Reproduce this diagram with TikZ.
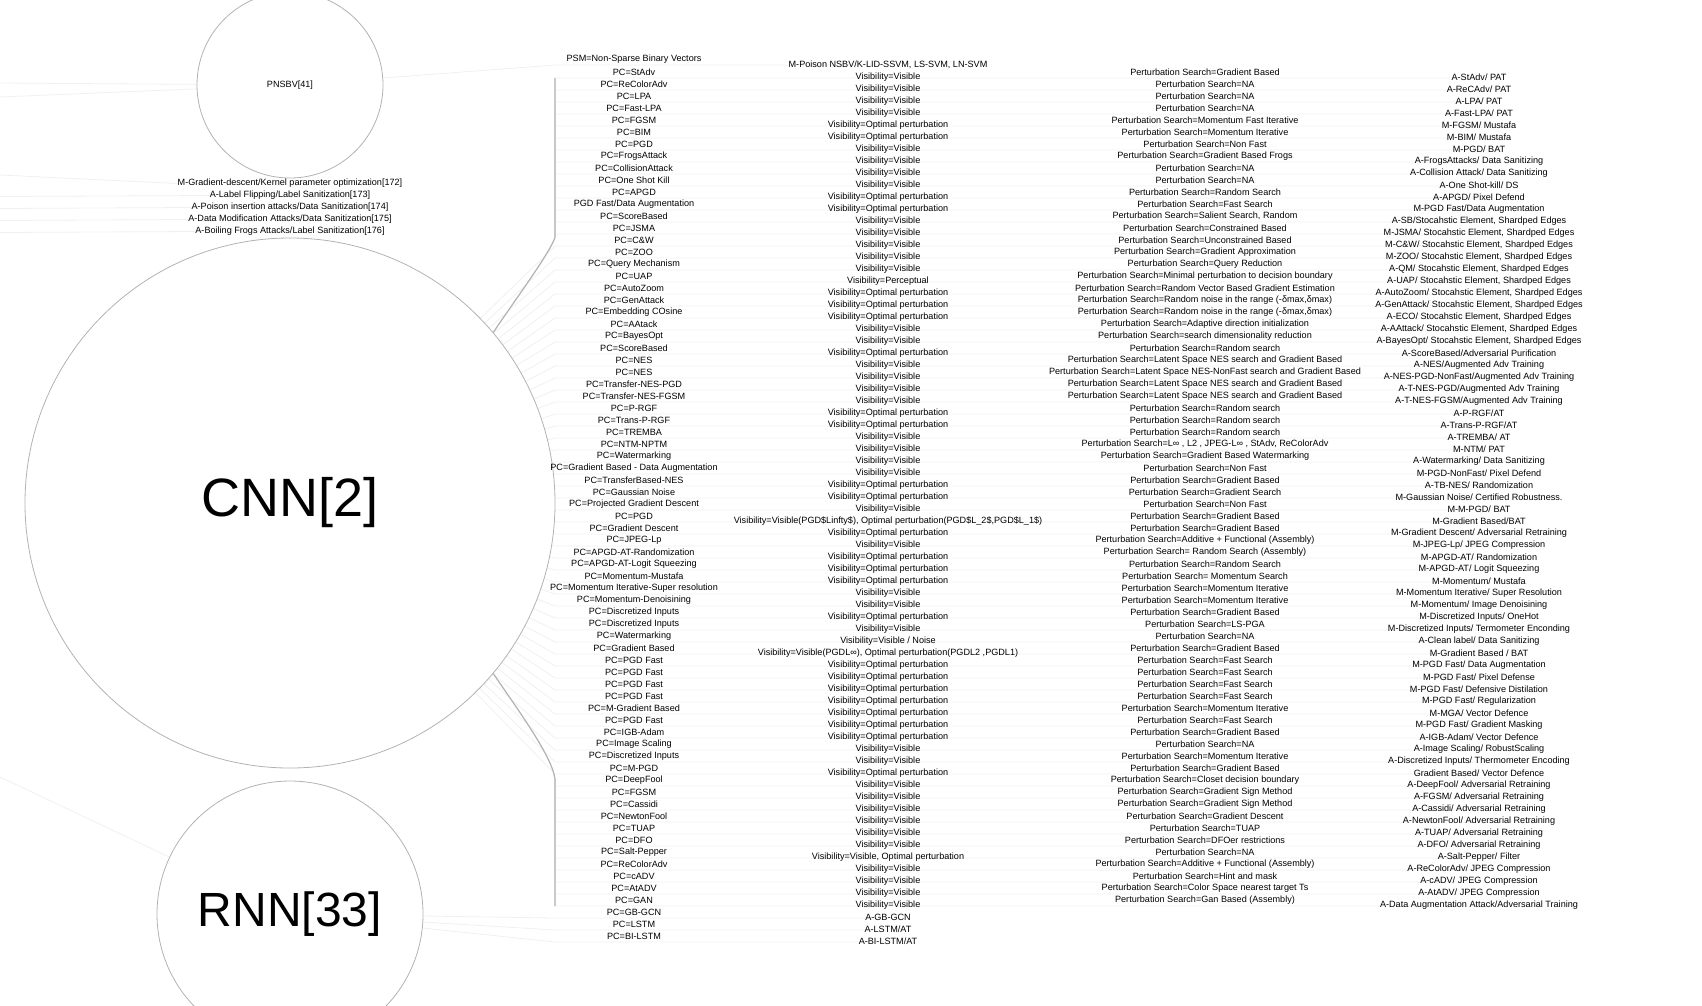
\documentclass[tikz,border=0pt]{standalone}
\usepackage{fontspec}
\setmainfont{Liberation Sans}
\usetikzlibrary{backgrounds}
\newcommand\visV{Visibility=Visible}
\newcommand\visO{Visibility=Optimal perturbation}
\tikzset{
  lbl/.style={font=\fontsize{9.1}{10}\selectfont, inner sep=0pt},
  hub/.style={circle, draw=gray!60, line width=0.8pt, inner sep=0pt},
  link/.style={draw=gray!12, line width=0.8pt},
  trunk/.style={draw=gray!60, line width=1.1pt},
}
\begin{document}
\begin{tikzpicture}[x=1pt,y=-1pt]
\useasboundingbox (0,0) rectangle (1702,1005);
\clip (0,0) rectangle (1702,1005);

% model circles
\node[hub, minimum size=186, font=\fontsize{9.1}{10}\selectfont] (pnsbv) at (290,85) {PNSBV[41]};
\node[hub, minimum size=530, font=\fontsize{54}{60}\selectfont] (cnn) at (290,503) {CNN[2]};
\node[hub, minimum size=266, font=\fontsize{48}{54}\selectfont] (rnn) at (290,914) {RNN[33]};

% poisoning defences under PNSBV
\foreach \t [count=\i] in {M-Gradient-descent/Kernel parameter optimization[172],%
  A-Label Flipping/Label Sanitization[173],%
  A-Poison insertion attacks/Data Sanitization[174],%
  A-Data Modification Attacks/Data Sanitization[175],%
  A-Boiling Frogs Attacks/Label Sanitization[176]}
  \node[lbl] (md\i) at (290,{12*\i+171.5}) {\t};

% perturbation columns
\node[lbl] (pc1) at (634,59) {PSM=Non-Sparse Binary Vectors};
\foreach \t [count=\i from 2] in {PC=StAdv,PC=ReColorAdv,PC=LPA,PC=Fast-LPA,PC=FGSM,PC=BIM,PC=PGD,%
  PC=FrogsAttack,PC=CollisionAttack,PC=One Shot Kill,PC=APGD,PGD Fast/Data Augmentation,%
  PC=ScoreBased,PC=JSMA,PC=C\&W,PC=ZOO,PC=Query Mechanism,PC=UAP,PC=AutoZoom,PC=GenAttack,%
  PC=Embedding COsine,PC=AAtack,PC=BayesOpt,PC=ScoreBased,PC=NES,PC=NES,PC=Transfer-NES-PGD,%
  PC=Transfer-NES-FGSM,PC=P-RGF,PC=Trans-P-RGF,PC=TREMBA,PC=NTM-NPTM,PC=Watermarking,%
  PC=Gradient Based - Data Augmentation,PC=TransferBased-NES,PC=Gaussian Noise,%
  PC=Projected Gradient Descent,PC=PGD,PC=Gradient Descent,PC=JPEG-Lp,PC=APGD-AT-Randomization,%
  PC=APGD-AT-Logit Squeezing,PC=Momentum-Mustafa,PC=Momentum Iterative-Super resolution,%
  PC=Momentum-Denoisining,PC=Discretized Inputs,PC=Discretized Inputs,PC=Watermarking,%
  PC=Gradient Based,PC=PGD Fast,PC=PGD Fast,PC=PGD Fast,PC=PGD Fast,PC=M-Gradient Based,%
  PC=PGD Fast,PC=IGB-Adam,PC=Image Scaling,PC=Discretized Inputs,PC=M-PGD,PC=DeepFool,%
  PC=FGSM,PC=Cassidi,PC=NewtonFool,PC=TUAP,PC=DFO,PC=Salt-Pepper,PC=ReColorAdv,PC=cADV,%
  PC=AtADV,PC=GAN,PC=GB-GCN,PC=LSTM,PC=BI-LSTM}
  \node[lbl] (pc\i) at (634,{12*\i+48}) {\t};

\node[lbl] (v1) at (888,64.7) {M-Poison NSBV/K-LID-SSVM, LS-SVM, LN-SVM};
\foreach \t [count=\i from 2] in {\visV,\visV,\visV,\visV,\visO,\visO,\visV,\visV,\visV,\visV,%
  \visO,\visO,\visV,\visV,\visV,\visV,\visV,Visibility=Perceptual,\visO,\visO,\visO,\visV,\visV,%
  \visO,\visV,\visV,\visV,\visV,\visO,\visO,\visV,\visV,\visV,\visV,\visO,\visO,\visV,%
  {Visibility=Visible(PGD\$Linfty\$), Optimal perturbation(PGD\$L\_2\$,PGD\$L\_1\$)},%
  \visO,\visV,\visO,\visO,\visO,\visV,\visV,\visO,\visV,Visibility=Visible / Noise,%
  {Visibility=Visible(PGDL∞), Optimal perturbation(PGDL2 ,PGDL1)},%
  \visO,\visO,\visO,\visO,\visO,\visO,\visO,\visV,\visV,\visO,%
  \visV,\visV,\visV,\visV,\visV,\visV,{Visibility=Visible, Optimal perturbation},%
  \visV,\visV,\visV,\visV,A-GB-GCN,A-LSTM/AT,A-BI-LSTM/AT}
  \node[lbl] (v\i) at (888,{12*\i+53}) {\t};

\foreach \t [count=\i from 2] in {Gradient Based,NA,NA,NA,Momentum Fast Iterative,%
  Momentum Iterative,Non Fast,Gradient Based Frogs,NA,NA,Random Search,Fast Search,%
  {Salient Search, Random},Constrained Based,Unconstrained Based,Gradient Approximation,%
  Query Reduction,Minimal perturbation to decision boundary,%
  Random Vector Based Gradient Estimation,{Random noise in the range (-δmax,δmax)},%
  {Random noise in the range (-δmax,δmax)},Adaptive direction initialization,%
  search dimensionality reduction,Random search,%
  Latent Space NES search and Gradient Based,%
  Latent Space NES-NonFast search and Gradient Based,%
  Latent Space NES search and Gradient Based,Latent Space NES search and Gradient Based,%
  Random search,Random search,Random search,{L∞ , L2 , JPEG-L∞ , StAdv, ReColorAdv},%
  Gradient Based Watermarking,Non Fast,Gradient Based,Gradient Search,Non Fast,%
  Gradient Based,Gradient Based,Additive + Functional (Assembly),%
  {\ Random Search (Assembly)},Random Search,{\ Momentum Search},Momentum Iterative,%
  Momentum Iterative,Gradient Based,LS-PGA,NA,Gradient Based,Fast Search,Fast Search,%
  Fast Search,Fast Search,Momentum Iterative,Fast Search,Gradient Based,NA,%
  Momentum Iterative,Gradient Based,Closet decision boundary,Gradient Sign Method,%
  Gradient Sign Method,Gradient Descent,TUAP,DFOer restrictions,NA,%
  Additive + Functional (Assembly),Hint and mask,Color Space nearest target Ts,%
  Gan Based (Assembly)}
  \node[lbl] (ps\i) at (1205,{12*\i+48}) {Perturbation Search=\t};

% attack / defence column
\foreach \t [count=\i from 2] in {A-StAdv/ PAT,A-ReCAdv/ PAT,A-LPA/ PAT,A-Fast-LPA/ PAT,%
  M-FGSM/ Mustafa,M-BIM/ Mustafa,M-PGD/ BAT,A-FrogsAttacks/ Data Sanitizing,%
  A-Collision Attack/ Data Sanitizing,A-One Shot-kill/ DS,A-APGD/ Pixel Defend,%
  M-PGD Fast/Data Augmentation,{A-SB/Stocahstic Element, Shardped Edges},%
  {M-JSMA/ Stocahstic Element, Shardped Edges},{M-C\&W/ Stocahstic Element, Shardped Edges},%
  {M-ZOO/ Stocahstic Element, Shardped Edges},{A-QM/ Stocahstic Element, Shardped Edges},%
  {A-UAP/ Stocahstic Element, Shardped Edges},{A-AutoZoom/ Stocahstic Element, Shardped Edges},%
  {A-GenAttack/ Stocahstic Element, Shardped Edges},{A-ECO/ Stocahstic Element, Shardped Edges},%
  {A-AAttack/ Stocahstic Element, Shardped Edges},{A-BayesOpt/ Stocahstic Element, Shardped Edges},%
  A-ScoreBased/Adversarial Purification,A-NES/Augmented Adv Training,%
  A-NES-PGD-NonFast/Augmented Adv Training,A-T-NES-PGD/Augmented Adv Training,%
  A-T-NES-FGSM/Augmented Adv Training,A-P-RGF/AT,A-Trans-P-RGF/AT,A-TREMBA/ AT,M-NTM/ PAT,%
  A-Watermarking/ Data Sanitizing,M-PGD-NonFast/ Pixel Defend,A-TB-NES/ Randomization,%
  M-Gaussian Noise/ Certified Robustness.,M-M-PGD/ BAT,M-Gradient Based/BAT,%
  M-Gradient Descent/ Adversarial Retraining,M-JPEG-Lp/ JPEG Compression,%
  M-APGD-AT/ Randomization,M-APGD-AT/ Logit Squeezing,M-Momentum/ Mustafa,%
  M-Momentum Iterative/ Super Resolution,M-Momentum/ Image Denoisining,%
  M-Discretized Inputs/ OneHot,M-Discretized Inputs/ Termometer Enconding,%
  A-Clean label/ Data Sanitizing,M-Gradient Based / BAT,M-PGD Fast/ Data Augmentation,%
  M-PGD Fast/ Pixel Defense,M-PGD Fast/ Defensive Distilation,M-PGD Fast/ Regularization,%
  M-MGA/ Vector Defence,M-PGD Fast/ Gradient Masking,A-IGB-Adam/ Vector Defence,%
  A-Image Scaling/ RobustScaling,A-Discretized Inputs/ Thermometer Encoding,%
  Gradient Based/ Vector Defence,A-DeepFool/ Adversarial Retraining,%
  A-FGSM/ Adversarial Retraining,A-Cassidi/ Adversarial Retraining,%
  A-NewtonFool/ Adversarial Retraining,A-TUAP/ Adversarial Retraining,%
  A-DFO/ Adversarial Retraining,A-Salt-Pepper/ Filter,A-ReColorAdv/ JPEG Compression,%
  A-cADV/ JPEG Compression,A-AtADV/ JPEG Compression,%
  A-Data Augmentation Attack/Adversarial Training}
  \node[lbl] (ad\i) at (1479,{12*\i+53}) {\t};

% junctions and free ends
\coordinate (j1) at (555,65);
\foreach \i in {2,...,74} \coordinate (j\i) at (555,{12*\i+54});
\coordinate (lp1) at (0,83);
\coordinate (lp2) at (0,97);
\coordinate (lr) at (0,777);
\coordinate (lg1) at (0,175);
\foreach \i in {2,...,5} \coordinate (lg\i) at (0,{12*\i+172.5});

\begin{scope}[on background layer]
  \draw[link] (lp1) -- (pnsbv);
  \draw[link] (lp2) -- (pnsbv);
  \draw[link] (lr) -- (rnn);
  \foreach \i in {1,...,5} \draw[link] (lg\i) -- (md\i.west);
  \draw[link] (pnsbv) -- (j1) -- (v1 |- j1);
  \foreach \i in {2,...,15}
    \draw[link] (cnn.40) .. controls (515,300) and (552,250) .. (555,237) -- (j\i) -- (ad\i |- j\i);
  \foreach \i in {16,...,60}
    \draw[link] (cnn) -- (j\i) -- (ad\i |- j\i);
  \foreach \i in {61,...,71}
    \draw[link] (cnn.-40) .. controls (518,710) and (552,756) .. (555,779) -- (j\i) -- (ad\i |- j\i);
  \foreach \i in {72,73,74}
    \draw[link] (rnn) -- (j\i) -- (v\i |- j\i);
  \draw[trunk] (cnn.40) .. controls (515,300) and (552,250) .. (555,237) -- (j2);
  \draw[trunk] (cnn.-40) .. controls (518,710) and (552,756) .. (555,779) -- (j71);
\end{scope}
\end{tikzpicture}
\end{document}
